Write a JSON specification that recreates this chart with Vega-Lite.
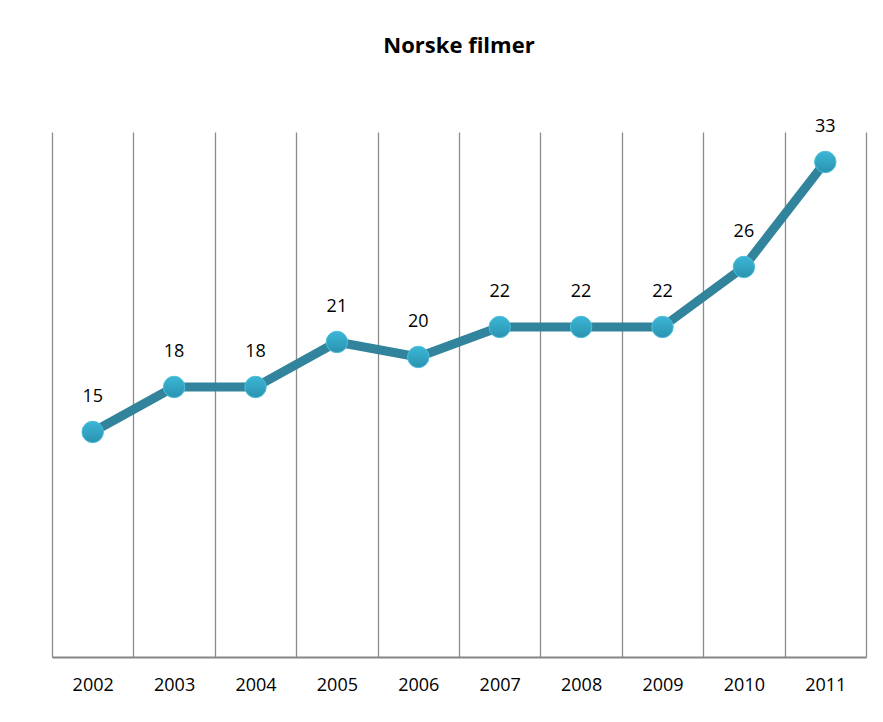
{
  "$schema": "https://vega.github.io/schema/vega-lite/v6.json",
  "width": 814,
  "height": 525,
  "autosize": {"type": "none"},
  "padding": {"left": 52, "top": 132, "right": 17, "bottom": 65},
  "background": "white",
  "title": {"text": "Norske filmer", "font": "Open Sans", "fontSize": 22, "fontWeight": "bold", "color": "#000000", "anchor": "middle", "offset": 60},
  "config": {"view": {"stroke": null}},
  "data": {"values": [
    {"year": 2002, "films": 15},
    {"year": 2003, "films": 18},
    {"year": 2004, "films": 18},
    {"year": 2005, "films": 21},
    {"year": 2006, "films": 20},
    {"year": 2007, "films": 22},
    {"year": 2008, "films": 22},
    {"year": 2009, "films": 22},
    {"year": 2010, "films": 26},
    {"year": 2011, "films": 33}
  ]},
  "layer": [
    {
      "mark": {"type": "line", "color": "#31849B", "strokeWidth": 9, "strokeJoin": "round"},
      "encoding": {
        "x": {"field": "year", "type": "quantitative", "scale": {"domain": [2001.5, 2011.5], "nice": false, "zero": false},
              "axis": {"orient": "bottom", "values": [2001.5, 2002.5, 2003.5, 2004.5, 2005.5, 2006.5, 2007.5, 2008.5, 2009.5, 2010.5, 2011.5], "labels": false, "ticks": false, "title": null, "grid": true, "gridColor": "#8C8C8C", "gridWidth": 1.3, "gridOpacity": 1, "domain": true, "domainColor": "#868686", "domainWidth": 2}},
        "y": {"field": "films", "type": "quantitative", "scale": {"domain": [0, 35], "nice": false, "zero": true}, "axis": null}
      }
    },
    {
      "mark": {"type": "point", "filled": true, "size": 460, "opacity": 1, "stroke": "#4DBFDB", "strokeWidth": 1,
               "fill": {"gradient": "linear", "x1": 0, "y1": 0, "x2": 0, "y2": 1, "stops": [{"offset": 0, "color": "#3CB6D6"}, {"offset": 1, "color": "#2A93B0"}]}},
      "encoding": {
        "x": {"field": "year", "type": "quantitative",
              "axis": {"orient": "bottom", "values": [2002, 2003, 2004, 2005, 2006, 2007, 2008, 2009, 2010, 2011], "format": "d", "labelFont": "Open Sans", "labelFontSize": 18, "labelColor": "#000000", "labelPadding": 19, "ticks": false, "domain": false, "grid": false, "title": null}},
        "y": {"field": "films", "type": "quantitative", "axis": null}
      }
    },
    {
      "mark": {"type": "text", "dy": -35, "font": "Open Sans", "fontSize": 18, "color": "#000000", "baseline": "middle"},
      "encoding": {
        "x": {"field": "year", "type": "quantitative", "axis": null},
        "y": {"field": "films", "type": "quantitative", "axis": null},
        "text": {"field": "films", "type": "quantitative"}
      }
    }
  ],
  "resolve": {"axis": {"x": "independent"}}
}
